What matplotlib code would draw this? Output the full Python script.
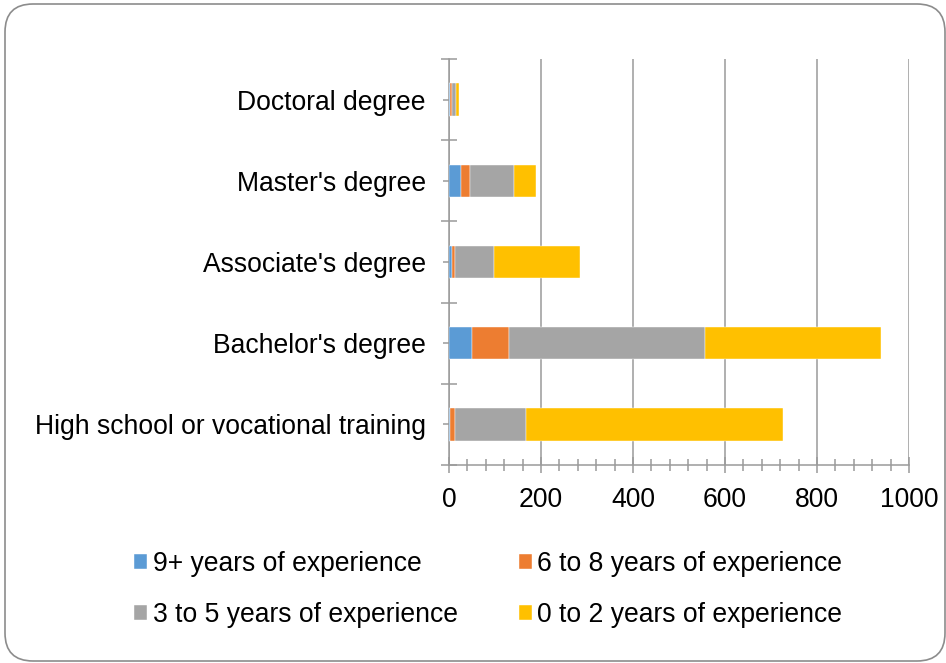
import numpy as np
import matplotlib
matplotlib.use('Agg')
from matplotlib import pyplot as plt
from matplotlib.patches import FancyBboxPatch
from matplotlib.ticker import MultipleLocator, FixedLocator

plt.rcParams['font.family'] = 'Liberation Sans'

# Data (bottom to top)
categories = ['High school or vocational training', "Bachelor's degree",
              "Associate's degree", "Master's degree", 'Doctoral degree']
exp_9plus = [2, 51, 7, 25, 2]
exp_6to8 = [12, 80, 7, 21, 5]
exp_3to5 = [153, 426, 84, 95, 8]
exp_0to2 = [558, 382, 186, 48, 6]

series = [
    ('9+ years of experience', exp_9plus, '#5B9BD5'),
    ('6 to 8 years of experience', exp_6to8, '#ED7D31'),
    ('3 to 5 years of experience', exp_3to5, '#A5A5A5'),
    ('0 to 2 years of experience', exp_0to2, '#FFC000'),
]

W, H = 946, 663
FS = 19.1
fig = plt.figure(figsize=(W / 100, H / 100), dpi=100)
ax = fig.add_axes([449 / W, 1 - 465 / H, 460 / W, 406 / H])

y = np.arange(len(categories))
left = np.zeros(len(categories))
bars = {}
for name, vals, color in series:
    vals = np.array(vals, dtype=float)
    bars[name] = ax.barh(y, vals, left=left, height=0.4, color=color,
                         edgecolor='white', linewidth=0.3, zorder=3)
    left += vals

grid_c = '#9a9a9a'
ax.set_xlim(0, 1000)
ax.set_ylim(-0.5, len(categories) - 0.5)
ax.xaxis.set_major_locator(MultipleLocator(200))
ax.xaxis.set_minor_locator(MultipleLocator(40))
ax.grid(axis='x', color=grid_c, linewidth=1.1, zorder=0)

ax.set_yticks(y)
ax.set_yticklabels(categories)
ax.yaxis.set_minor_locator(FixedLocator(np.arange(-0.5, len(categories), 1.0)))

for s in ['top', 'right']:
    ax.spines[s].set_visible(False)
for s in ['left', 'bottom']:
    ax.spines[s].set_color(grid_c)
    ax.spines[s].set_linewidth(1.1)

ax.tick_params(axis='x', which='major', direction='inout', length=11, width=1.1,
               color=grid_c, labelsize=FS, pad=10)
ax.tick_params(axis='x', which='minor', direction='inout', length=8.5, width=1.1,
               color=grid_c)
ax.tick_params(axis='y', which='major', direction='inout', length=8.5, width=1.1,
               color=grid_c, labelsize=FS, pad=12.5)
ax.tick_params(axis='y', which='minor', direction='inout', length=11.5, width=1.1,
               color=grid_c)

# legend: rows are (9+, 6-8), (3-5, 0-2)
order = [0, 2, 1, 3]
handles = [bars[series[i][0]] for i in order]
labels = [series[i][0] for i in order]
fig.legend(handles, labels, ncol=2, loc='upper left',
           bbox_to_anchor=(134 / W, 1 - 551 / H), frameon=False,
           fontsize=FS, handlelength=0.5, handleheight=0.5,
           handletextpad=0.2, columnspacing=2.3, labelspacing=0.95,
           borderpad=0, borderaxespad=0)

# rounded frame around the chart
frame = FancyBboxPatch((5, 2), 940, 657, boxstyle='round,pad=0,rounding_size=28',
                       transform=None, facecolor='none', edgecolor='#8c8c8c',
                       linewidth=1.2)
fig.patches.append(frame)

fig.savefig('out.png', dpi=100)
